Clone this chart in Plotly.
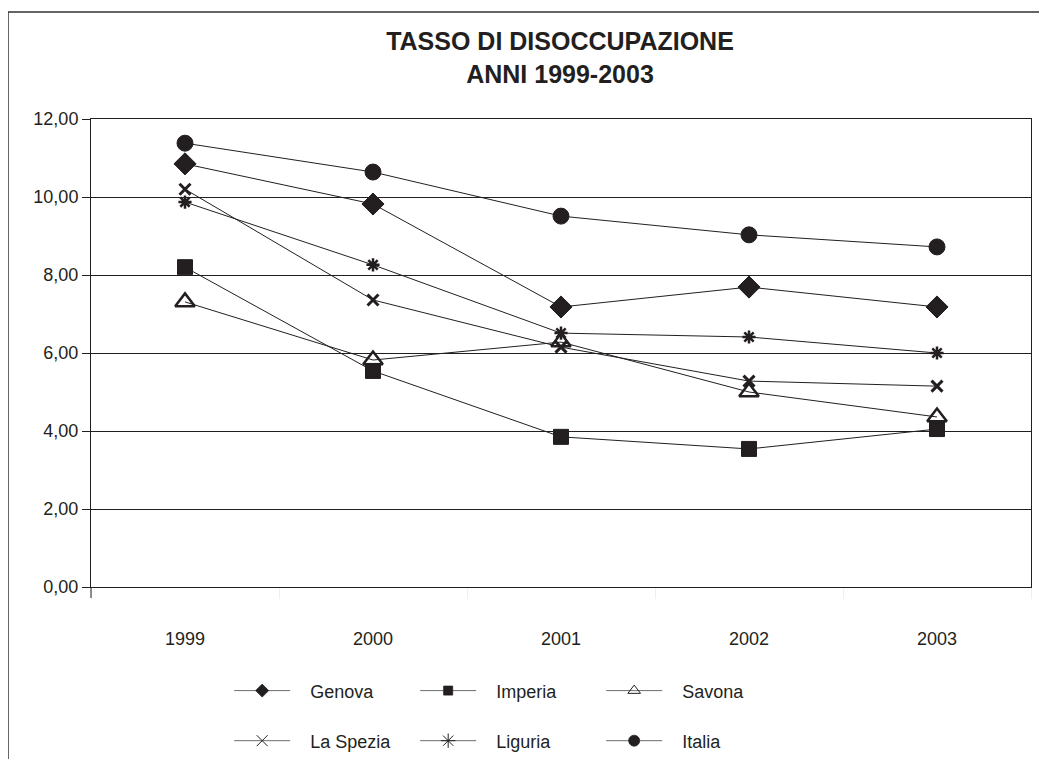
import plotly.graph_objects as go

anni = ["1999", "2000", "2001", "2002", "2003"]

genova = [10.85, 9.82, 7.18, 7.69, 7.18]
imperia = [8.20, 5.54, 3.85, 3.54, 4.05]
savona = [7.31, 5.82, 6.28, 5.00, 4.36]
la_spezia = [10.20, 7.36, 6.15, 5.28, 5.15]
liguria = [9.87, 8.26, 6.51, 6.41, 6.00]
italia = [11.38, 10.64, 9.51, 9.03, 8.72]

y_ticks = [0, 2, 4, 6, 8, 10, 12]

ink = "#231f20"
font = "Liberation Sans, Arial, sans-serif"
pad = "\u00a0\u00a0\u00a0"  # extra gap between legend sample and label

serie = [
    ("Genova", genova, "diamond", 17, 1, 10, 0.8, "legend"),
    ("Imperia", imperia, "square", 15, 1, 9, 0.8, "legend"),
    ("Savona", savona, "triangle-up-open", 17, 2.5, 11, 1, "legend"),
    ("La Spezia", la_spezia, "x-thin-open", 11, 3, 11, 1, "legend2"),
    ("Liguria", liguria, "asterisk-open", 11, 2.5, 12, 1, "legend2"),
    ("Italia", italia, "circle", 16, 1, 11, 0.8, "legend2"),
]

fig = go.Figure()

for nome, valori, simbolo, size, lw, lsize, llw, leg in serie:
    fig.add_trace(go.Scatter(
        x=anni, y=valori, mode="lines+markers", name=nome,
        line=dict(color=ink, width=1),
        marker=dict(symbol=simbolo, size=size, color=ink,
                    line=dict(color=ink, width=lw)),
        showlegend=False,
    ))
    # legend-only entry with the smaller glyphs of the original
    fig.add_trace(go.Scatter(
        x=[None], y=[None], mode="lines+markers", name=pad + nome,
        line=dict(color="#6d6d6d", width=1),
        marker=dict(symbol=simbolo, size=lsize, color=ink,
                    line=dict(color=ink, width=llw)),
        legend=leg,
    ))

legend_style = dict(
    orientation="h", xanchor="left", yanchor="middle", x=0.147,
    font=dict(family=font, size=18, color=ink),
    bgcolor="rgba(0,0,0,0)", itemwidth=56, entrywidth=115,
    itemclick=False,
)

# the page adds an 8px body margin, so the figure is laid out 8px up/left
fig.update_layout(
    width=1047, height=759,
    margin=dict(l=83, r=24, t=111, b=180, autoexpand=False),
    paper_bgcolor="white", plot_bgcolor="white",
    separators=",.",
    font=dict(family=font, size=18, color=ink),
    title=dict(
        text="<b>TASSO DI DISOCCUPAZIONE<br>ANNI 1999-2003</b>",
        x=552 / 1047, xanchor="center", xref="container",
        y=1 - 42 / 759, yanchor="middle", yref="container",
        font=dict(family=font, size=25, color=ink),
    ),
    legend=dict(legend_style, y=-0.222),
    legend2=dict(legend_style, y=-0.329),
    xaxis=dict(
        type="category", range=[-0.5, 4.5], automargin=False,
        showgrid=False, showline=True, linecolor=ink, linewidth=1, mirror=True,
        ticks="outside", tickson="boundaries", ticklen=11,
        tickcolor="#efefef", ticklabelstandoff=35,
        tickfont=dict(family=font, size=18, color=ink),
    ),
    yaxis=dict(
        range=[0, 12], tickvals=y_ticks, tickformat=".2f", automargin=False,
        showgrid=True, gridcolor=ink, gridwidth=1,
        showline=True, linecolor=ink, linewidth=1, mirror=True,
        ticks="outside", ticklen=8, tickcolor=ink,
        tickfont=dict(family=font, size=18, color=ink),
        zeroline=False,
    ),
    shapes=[
        dict(type="rect", xref="paper", yref="paper",
             x0=-0.0883, x1=1.2, y0=-0.5, y1=1.2286,
             line=dict(color="#333333", width=1.5), layer="below"),
        # value axis runs a little below the category axis, as in the original
        dict(type="line", xref="paper", yref="paper",
             x0=0, x1=0, y0=0, y1=-11 / 468,
             line=dict(color=ink, width=1)),
    ],
)

fig.write_html("out.html")
